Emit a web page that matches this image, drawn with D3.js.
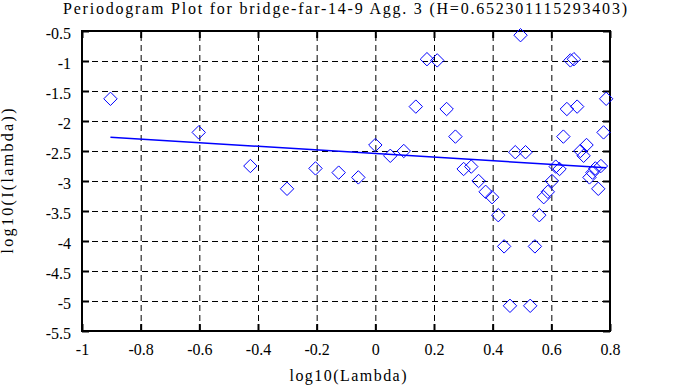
<!DOCTYPE html>
<html>
<head>
<meta charset="utf-8">
<script src="https://cdn.jsdelivr.net/npm/d3@7"></script>
<style>
  body { margin: 0; background: #fff; }
  svg { display: block; }
  text { font-family: "Times New Roman", Times, "Liberation Serif", "DejaVu Serif", "Noto Serif", serif; font-size: 16px; fill: #000; }
  .axis path.domain { display: none; }
  .axis text { font-family: "Times New Roman", Times, "Liberation Serif", "DejaVu Serif", "Noto Serif", serif; font-size: 16px; }
  .grid line { stroke: #000; stroke-width: 1; stroke-dasharray: 6,4; }
  .grid path.domain { display: none; }
</style>
</head>
<body>
<svg width="678" height="387"></svg>
<script>
  // DATA

  var title = "Periodogram Plot for bridge-far-14-9 Agg. 3 (H=0.652301115293403)",
      xLabel = "log10(Lambda)",
      yLabel = "log10(I(lambda))";

  var logLambda = [
    -0.903, -0.602, -0.426, -0.301, -0.204, -0.125, -0.058, 0.000,
    0.051, 0.097, 0.138, 0.176, 0.211, 0.243, 0.273, 0.301,
    0.327, 0.352, 0.376, 0.398, 0.419, 0.439, 0.459, 0.477,
    0.495, 0.512, 0.528, 0.544, 0.559, 0.574, 0.588, 0.602,
    0.615, 0.628, 0.641, 0.653, 0.665, 0.677, 0.688, 0.699,
    0.710, 0.720, 0.730, 0.740, 0.750, 0.760, 0.769, 0.778, 0.787
  ];

  var logI = [
    -1.63, -2.19, -2.75, -3.13, -2.79, -2.86, -2.94, -2.40,
    -2.58, -2.50, -1.76, -0.97, -0.99, -1.80, -2.26, -2.80,
    -2.76, -3.00, -3.18, -3.27, -3.57, -4.09, -5.08, -2.52,
    -0.57, -2.52, -5.08, -4.09, -3.57, -3.27, -3.18, -3.00,
    -2.76, -2.80, -2.26, -1.80, -0.99, -0.97, -1.76, -2.50,
    -2.58, -2.40, -2.94, -2.86, -2.79, -3.13, -2.75, -2.19, -1.63
  ];

  // least squares fit end points
  var fitX = [-0.903, 0.787],
      fitY = [-2.27, -2.78];

  var xTicks = [-1, -0.8, -0.6, -0.4, -0.2, 0, 0.2, 0.4, 0.6, 0.8],
      yTicks = [-0.5, -1, -1.5, -2, -2.5, -3, -3.5, -4, -4.5, -5, -5.5];

  // SETUP

  var svg = d3.select("svg"),
      margin = { top: 31, right: 68, bottom: 56, left: 82 },
      width = 678 - margin.left - margin.right,
      height = 387 - margin.top - margin.bottom;

  var x = d3.scaleLinear().domain([-1, 0.8]).range([0, width]),
      y = d3.scaleLinear().domain([-5.5, -0.5]).range([height, 0]);

  var fmt = function (d) { return String(d); };

  var g = svg.append("g")
    .attr("transform", "translate(" + margin.left + "," + margin.top + ")");

  // grid (inner lines only)
  g.append("g")
    .attr("class", "grid")
    .attr("transform", "translate(0," + height + ")")
    .call(d3.axisBottom(x).tickValues(xTicks.slice(1, -1)).tickSize(-height).tickFormat(""));

  g.append("g")
    .attr("class", "grid")
    .call(d3.axisLeft(y).tickValues(yTicks.slice(1, -1)).tickSize(-width).tickFormat(""));

  // axes with inward ticks
  var xAxis = g.append("g")
    .attr("class", "axis")
    .attr("transform", "translate(0," + height + ")")
    .call(d3.axisBottom(x).tickValues(xTicks).tickSize(-7).tickPadding(13).tickFormat(fmt));
  xAxis.selectAll("line").attr("stroke-width", 2);

  var yAxis = g.append("g")
    .attr("class", "axis")
    .call(d3.axisLeft(y).tickValues(yTicks).tickSize(-7).tickPadding(11).tickFormat(fmt));
  yAxis.selectAll("line").attr("stroke-width", 2);
  yAxis.selectAll("text").attr("dy", "0.46em");

  g.append("g")
    .attr("class", "axis")
    .call(d3.axisTop(x).tickValues(xTicks).tickSize(-7).tickFormat(""))
    .selectAll("line").attr("stroke-width", 2);

  g.append("g")
    .attr("class", "axis")
    .attr("transform", "translate(" + width + ",0)")
    .call(d3.axisRight(y).tickValues(yTicks).tickSize(-7).tickFormat(""))
    .selectAll("line").attr("stroke-width", 2);

  // border
  g.append("rect")
    .attr("width", width)
    .attr("height", height)
    .attr("fill", "none")
    .attr("stroke", "#000")
    .attr("stroke-width", 2);

  // fit line
  g.append("line")
    .attr("x1", x(fitX[0])).attr("y1", y(fitY[0]))
    .attr("x2", x(fitX[1])).attr("y2", y(fitY[1]))
    .attr("stroke", "#0000ff")
    .attr("stroke-width", 1.5);

  // points as diamonds
  var r = 6.7;
  g.selectAll(".pt")
    .data(logLambda)
    .enter().append("path")
    .attr("class", "pt")
    .attr("d", function (d, i) {
      var cx = x(d), cy = y(logI[i]);
      return "M" + cx + "," + (cy - r) + "L" + (cx + r) + "," + cy +
             "L" + cx + "," + (cy + r) + "L" + (cx - r) + "," + cy + "Z";
    })
    .attr("fill", "none")
    .attr("stroke", "#0000ff")
    .attr("stroke-width", 1);

  // labels
  svg.append("text")
    .attr("x", 345)
    .attr("y", 14)
    .attr("text-anchor", "middle")
    .attr("textLength", 564)
    .attr("lengthAdjust", "spacing")
    .text(title);

  svg.append("text")
    .attr("x", 348)
    .attr("y", 381)
    .attr("text-anchor", "middle")
    .attr("textLength", 117)
    .attr("lengthAdjust", "spacing")
    .text(xLabel);

  svg.append("text")
    .attr("transform", "translate(12.5," + (margin.top + height / 2) + ") rotate(-90)")
    .attr("text-anchor", "middle")
    .attr("textLength", 145)
    .attr("lengthAdjust", "spacing")
    .text(yLabel);
</script>
</body>
</html>
